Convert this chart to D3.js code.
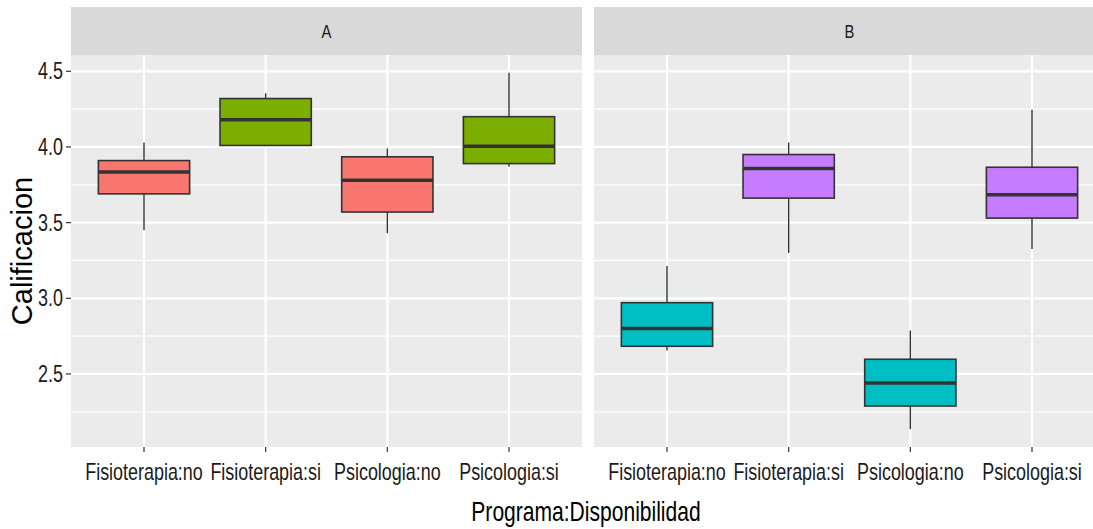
<!DOCTYPE html>
<html>
<head>
<meta charset="utf-8">
<script src="https://cdn.jsdelivr.net/npm/d3@7"></script>
<style>
  body { margin: 0; background: #fff; }
  text { font-family: "Liberation Sans", Arial, sans-serif; }
</style>
</head>
<body>
<div id="chart"></div>
<script>
// panels and categories
const panels = ["A", "B"];
const categories = ["Fisioterapia:no", "Fisioterapia:si", "Psicologia:no", "Psicologia:si"];

// box stats, panel A
const lowerA  = [3.45, 4.01, 3.43, 3.87];
const q1A     = [3.69, 4.01, 3.57, 3.89];
const medianA = [3.835, 4.18, 3.78, 4.005];
const q3A     = [3.91, 4.32, 3.935, 4.20];
const upperA  = [4.03, 4.355, 3.99, 4.49];

// panel B
const lowerB  = [2.655, 3.30, 2.135, 3.325];
const q1B     = [2.683, 3.662, 2.288, 3.53];
const medianB = [2.80, 3.857, 2.44, 3.684];
const q3B     = [2.971, 3.95, 2.597, 3.866];
const upperB  = [3.214, 4.029, 2.787, 4.246];

// fill groups (one per panel x disponibilidad)
const fillGroups = ["A:no", "A:si", "B:no", "B:si"];
const fillColors = ["#F8766D", "#7CAE00", "#00BFC4", "#C77CFF"];

const yTicks = [2.5, 3.0, 3.5, 4.0, 4.5];
const yMinor = [2.25, 2.75, 3.25, 3.75, 4.25];

const width = 1093, height = 529;
const panelTop = 55, panelBottom = 447, stripTop = 7;
const panelX = {A: 71, B: 594};
const panelW = 511;
const sx = 0.78; // text looks horizontally condensed

const svg = d3.select("#chart")
    .append("svg")
    .attr("width", width)
    .attr("height", height);

const stats = {
    A: categories.map((c, i) => ({cat: c, lo: lowerA[i], q1: q1A[i], med: medianA[i], q3: q3A[i], hi: upperA[i], fill: "A:" + c.split(":")[1]})),
    B: categories.map((c, i) => ({cat: c, lo: lowerB[i], q1: q1B[i], med: medianB[i], q3: q3B[i], hi: upperB[i], fill: "B:" + c.split(":")[1]}))
};

// y range with ggplot style 5% expansion
const allLo = d3.min(lowerA.concat(lowerB));
const allHi = d3.max(upperA.concat(upperB));
const pad = (allHi - allLo) * 0.05;

const yScale = d3.scaleLinear()
    .domain([allLo - pad, allHi + pad])
    .range([panelBottom, panelTop]);

const color = d3.scaleOrdinal()
    .domain(fillGroups)
    .range(fillColors);

function condensed(sel, x, y) {
    sel.attr("transform", `translate(${x},${y}) scale(${sx},1)`);
}

panels.forEach(p => {
    const x0 = panelX[p];
    const xScale = d3.scalePoint()
        .domain(categories)
        .range([x0, x0 + panelW])
        .padding(0.6);
    const boxW = xScale.step() * 0.75;

    // strip
    svg.append("rect")
        .attr("x", x0).attr("y", stripTop)
        .attr("width", panelW).attr("height", panelTop - stripTop)
        .attr("fill", "#D9D9D9");
    svg.append("text")
        .attr("text-anchor", "middle")
        .attr("font-size", 19)
        .attr("fill", "#1A1A1A")
        .text(p)
        .call(condensed, x0 + panelW / 2, 38);

    // panel background
    svg.append("rect")
        .attr("x", x0).attr("y", panelTop)
        .attr("width", panelW).attr("height", panelBottom - panelTop)
        .attr("fill", "#EBEBEB");

    // grid
    svg.selectAll(null).data(yMinor).enter().append("line")
        .attr("x1", x0).attr("x2", x0 + panelW)
        .attr("y1", d => yScale(d)).attr("y2", d => yScale(d))
        .attr("stroke", "#fff").attr("stroke-width", 1.2);
    svg.selectAll(null).data(yTicks).enter().append("line")
        .attr("x1", x0).attr("x2", x0 + panelW)
        .attr("y1", d => yScale(d)).attr("y2", d => yScale(d))
        .attr("stroke", "#fff").attr("stroke-width", 2.2);
    svg.selectAll(null).data(categories).enter().append("line")
        .attr("x1", d => xScale(d)).attr("x2", d => xScale(d))
        .attr("y1", panelTop).attr("y2", panelBottom)
        .attr("stroke", "#fff").attr("stroke-width", 2.2);

    // boxes
    const g = svg.append("g");
    stats[p].forEach(s => {
        const cx = xScale(s.cat);
        g.append("line")
            .attr("x1", cx).attr("x2", cx)
            .attr("y1", yScale(s.hi)).attr("y2", yScale(s.q3))
            .attr("stroke", "#333333").attr("stroke-width", 1.4);
        g.append("line")
            .attr("x1", cx).attr("x2", cx)
            .attr("y1", yScale(s.q1)).attr("y2", yScale(s.lo))
            .attr("stroke", "#333333").attr("stroke-width", 1.4);
        g.append("rect")
            .attr("x", cx - boxW / 2)
            .attr("y", yScale(s.q3))
            .attr("width", boxW)
            .attr("height", yScale(s.q1) - yScale(s.q3))
            .attr("fill", color(s.fill))
            .attr("stroke", "#333333")
            .attr("stroke-width", 1.6);
        g.append("line")
            .attr("x1", cx - boxW / 2).attr("x2", cx + boxW / 2)
            .attr("y1", yScale(s.med)).attr("y2", yScale(s.med))
            .attr("stroke", "#333333").attr("stroke-width", 3.5);
    });

    // x ticks + labels
    svg.selectAll(null).data(categories).enter().append("line")
        .attr("x1", d => xScale(d)).attr("x2", d => xScale(d))
        .attr("y1", panelBottom).attr("y2", panelBottom + 5)
        .attr("stroke", "#333333").attr("stroke-width", 1.2);
    categories.forEach(c => {
        svg.append("text")
            .attr("text-anchor", "middle")
            .attr("font-size", 23)
            .attr("fill", "#1A1A1A")
            .text(c)
            .call(condensed, xScale(c), 480);
    });
});

// y axis ticks + labels (left panel only)
svg.selectAll(null).data(yTicks).enter().append("line")
    .attr("x1", panelX.A - 5).attr("x2", panelX.A)
    .attr("y1", d => yScale(d)).attr("y2", d => yScale(d))
    .attr("stroke", "#333333").attr("stroke-width", 1.2);
yTicks.forEach(t => {
    svg.append("text")
        .attr("text-anchor", "end")
        .attr("font-size", 23)
        .attr("fill", "#1A1A1A")
        .text(d3.format(".1f")(t))
        .call(condensed, panelX.A - 8, yScale(t) + 8);
});

// axis titles
svg.append("text")
    .attr("text-anchor", "middle")
    .attr("font-size", 27)
    .attr("fill", "#000")
    .text("Programa:Disponibilidad")
    .call(condensed, 586, 521);

svg.append("text")
    .attr("text-anchor", "middle")
    .attr("font-size", 29)
    .attr("fill", "#000")
    .attr("transform", `translate(32,${(panelTop + panelBottom) / 2}) rotate(-90)`)
    .text("Calificacion");
</script>
</body>
</html>
